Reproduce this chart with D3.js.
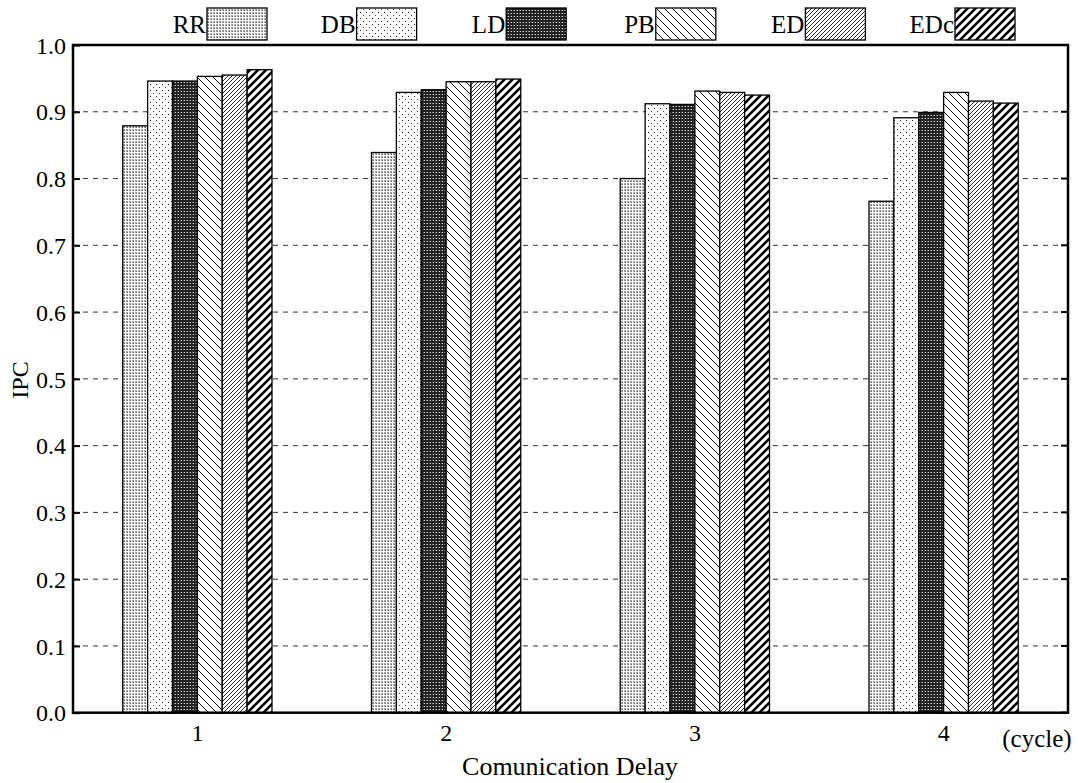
<!DOCTYPE html>
<html><head><meta charset="utf-8">
<script src="https://cdn.jsdelivr.net/npm/d3@7"></script>
<style>html,body{margin:0;padding:0;background:#fff;}svg{display:block;font-family:"Liberation Serif","Times New Roman",serif;}svg text{font-family:"Liberation Serif","Times New Roman",serif;}</style>
</head><body>
<svg id="c" width="1078" height="783"></svg>
<script>
const categories = ["1", "2", "3", "4"];
const seriesNames = ["RR", "DB", "LD", "PB", "ED", "EDc"];
const RR  = [0.879, 0.839, 0.800, 0.766];
const DB  = [0.946, 0.929, 0.912, 0.891];
const LD  = [0.946, 0.933, 0.911, 0.899];
const PB  = [0.953, 0.945, 0.931, 0.929];
const ED  = [0.955, 0.945, 0.929, 0.916];
const EDc = [0.963, 0.949, 0.925, 0.913];
const yTicks = [0.0, 0.1, 0.2, 0.3, 0.4, 0.5, 0.6, 0.7, 0.8, 0.9, 1.0];
const seriesValues = {RR, DB, LD, PB, ED, EDc};

(function () {
const svg = d3.select("#c");
const defs = svg.append("defs");

function pat(id, w, h, build) {
  const p = defs.append("pattern").attr("id", id).attr("patternUnits", "userSpaceOnUse")
    .attr("width", w).attr("height", h);
  build(p);
}
pat("pRR", 3, 3, p => {
  p.append("rect").attr("width", 3).attr("height", 3).attr("fill", "#fff");
  p.append("rect").attr("x", 0).attr("y", 0).attr("width", 2).attr("height", 2).attr("fill", "#a8a8a8");
  p.append("rect").attr("x", 1).attr("y", 1).attr("width", 1).attr("height", 1).attr("fill", "#666");
});
pat("pDB", 6, 6, p => {
  p.append("rect").attr("width", 6).attr("height", 6).attr("fill", "#fff");
  p.append("rect").attr("x", 0).attr("y", 0).attr("width", 1).attr("height", 1).attr("fill", "#222");
  p.append("rect").attr("x", 3).attr("y", 3).attr("width", 1).attr("height", 1).attr("fill", "#444");
});
pat("pLD", 3, 3, p => {
  p.append("rect").attr("width", 3).attr("height", 3).attr("fill", "#222");
  p.append("rect").attr("x", 1).attr("y", 1).attr("width", 1).attr("height", 1).attr("fill", "#ccc");
  p.append("rect").attr("x", 0).attr("y", 1).attr("width", 1).attr("height", 1).attr("fill", "#666");
});
pat("pPB", 8, 8, p => {
  p.append("rect").attr("width", 8).attr("height", 8).attr("fill", "#fff");
  p.append("path").attr("d", "M-2,-2 L10,10 M-2,6 L2,10 M6,-2 L10,2").attr("stroke", "#111").attr("stroke-width", 1);
});
pat("pED", 4, 4, p => {
  p.append("rect").attr("width", 4).attr("height", 4).attr("fill", "#fff");
  p.append("path").attr("d", "M-1,5 L5,-1 M-1,1 L1,-1 M3,5 L5,3").attr("stroke", "#333").attr("stroke-width", 1);
});
pat("pEDc", 8, 8, p => {
  p.append("rect").attr("width", 8).attr("height", 8).attr("fill", "#fff");
  p.append("path").attr("d", "M-2,10 L10,-2 M-2,2 L2,-2 M6,10 L10,6").attr("stroke", "#000").attr("stroke-width", 2.6);
});
const fills = {RR: "url(#pRR)", DB: "url(#pDB)", LD: "url(#pLD)", PB: "url(#pPB)", ED: "url(#pED)", EDc: "url(#pEDc)"};

const pLeft = 73, pRight = 1068, pTop = 45, pBottom = 712.7;
const x = d3.scaleBand().domain(categories).range([pLeft, pRight]).padding(0);
const xi = d3.scaleBand().domain(seriesNames).range([x.bandwidth() * 0.2, x.bandwidth() * 0.8]).padding(0);
const y = d3.scaleLinear().domain([0, 1]).range([pBottom, pTop]);

svg.append("g").selectAll("line").data(yTicks.filter(t => t > 0 && t < 1)).join("line")
  .attr("x1", pLeft).attr("x2", pRight).attr("y1", d => y(d)).attr("y2", d => y(d))
  .attr("stroke", "#333").attr("stroke-width", 1).attr("stroke-dasharray", "5,5");

const g = svg.append("g");
categories.forEach((c, ci) => {
  seriesNames.forEach(s => {
    const v = seriesValues[s][ci];
    g.append("rect")
      .attr("x", x(c) + xi(s)).attr("width", xi.bandwidth())
      .attr("y", y(v)).attr("height", y(0) - y(v))
      .attr("fill", fills[s]).attr("stroke", "#000").attr("stroke-width", 1.3);
  });
});

svg.append("rect").attr("x", pLeft).attr("y", pTop).attr("width", pRight - pLeft).attr("height", pBottom - pTop)
  .attr("fill", "none").attr("stroke", "#000").attr("stroke-width", 2.5);

const yAxis = d3.axisLeft(y).tickValues(yTicks).tickFormat(d3.format(".1f")).tickSize(-7).tickPadding(7);
const ya = svg.append("g").attr("transform", `translate(${pLeft},0)`).call(yAxis);
ya.attr("font-family", null).attr("font-size", null);
ya.select(".domain").remove();
ya.selectAll(".tick line").attr("stroke", "#000").attr("stroke-width", 2);
ya.selectAll("text").attr("font-size", 24).attr("fill", "#000").attr("dy", "0.34em");
svg.append("g").selectAll("line").data(yTicks).join("line")
  .attr("x1", pRight - 7).attr("x2", pRight).attr("y1", d => y(d)).attr("y2", d => y(d))
  .attr("stroke", "#000").attr("stroke-width", 2);

const xAxis = d3.axisBottom(x).tickSize(0).tickPadding(11);
const xa = svg.append("g").attr("transform", `translate(0,${pBottom})`).call(xAxis);
xa.attr("font-family", null).attr("font-size", null);
xa.select(".domain").remove();
xa.selectAll("text").attr("font-size", 24).attr("fill", "#000");

svg.append("text").attr("x", 570).attr("y", 775).attr("text-anchor", "middle")
  .attr("font-size", 26).text("Comunication Delay");
svg.append("text").attr("x", 1037).attr("y", 747).attr("text-anchor", "middle")
  .attr("font-size", 25).text("(cycle)");
svg.append("text").attr("transform", "translate(28,380) rotate(-90)").attr("text-anchor", "middle")
  .attr("font-size", 24).text("IPC");

const lg = svg.append("g");
seriesNames.forEach((s, i) => {
  const bx = 207 + i * 149.6;
  lg.append("rect").attr("x", bx).attr("y", 8).attr("width", 60).attr("height", 32)
    .attr("fill", fills[s]).attr("stroke", "#000").attr("stroke-width", 1.3);
  lg.append("text").attr("x", bx - 1).attr("y", 33).attr("text-anchor", "end")
    .attr("font-size", 25).text(s);
});
})();
</script>
</body></html>
